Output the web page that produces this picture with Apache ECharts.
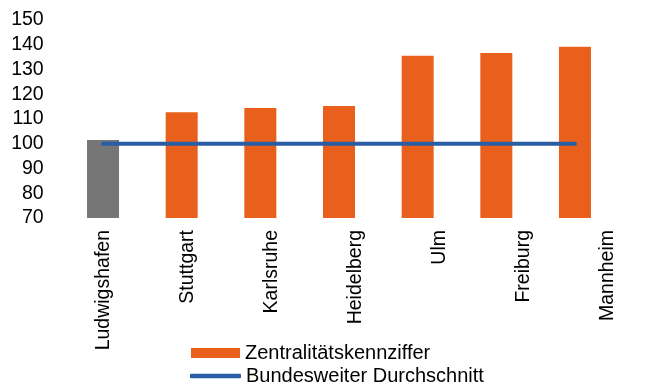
<!DOCTYPE html>
<html>
<head>
<meta charset="utf-8">
<script src="https://cdn.jsdelivr.net/npm/echarts@6/dist/echarts.min.js"></script>
<style>html,body{margin:0;padding:0;background:#fff}#c{width:647px;height:385px}</style>
</head>
<body>
<div id="c"></div>
<script>
const categories = ['Ludwigshafen','Stuttgart','Karlsruhe','Heidelberg','Ulm','Freiburg','Mannheim'];
const zentralitaet = [101.5, 112.7, 114.4, 115.3, 135.6, 136.7, 139.2];
const bundesschnitt = [100, 100, 100, 100, 100, 100, 100];
const yTicks = [70, 80, 90, 100, 110, 120, 130, 140, 150];
const seriesNames = ['Zentralitätskennziffer', 'Bundesweiter Durchschnitt'];

const FONT = 'Liberation Sans, Arial, sans-serif';
const ORANGE = '#E9601C', GRAY = '#767676', BLUE = '#2A5EA4';

const chart = echarts.init(document.getElementById('c'), null, {renderer: 'canvas'});
chart.setOption({
  animation: false,
  backgroundColor: '#fff',
  grid: [
    {left: 63.7, top: 20, width: 550.6, height: 198},
    {left: 104, top: 20, width: 504, height: 198}
  ],
  legend: [
    {data: [seriesNames[0]], left: 191, top: 343, padding: 0, itemWidth: 49, itemHeight: 10, icon: 'rect',
     textStyle: {fontFamily: FONT, fontSize: 20, color: '#000'}},
    {data: [seriesNames[1]], left: 190, top: 366, padding: 0, itemWidth: 51, itemHeight: 4.5, icon: 'roundRect',
     textStyle: {fontFamily: FONT, fontSize: 20, color: '#000'}}
  ],
  xAxis: [
    {type: 'category', gridIndex: 0, data: categories, axisLine: {show: false}, axisTick: {show: false}, axisLabel: {show: false}},
    {type: 'category', gridIndex: 1, data: categories, boundaryGap: false, axisLine: {show: false}, axisTick: {show: false},
     axisLabel: {rotate: 90, margin: 12, interval: 0, fontFamily: FONT, fontSize: 19.5, color: '#000'}}
  ],
  yAxis: [
    {type: 'value', gridIndex: 0, min: yTicks[0], max: yTicks[yTicks.length-1], interval: 10,
     axisLine: {show: false}, axisTick: {show: false}, splitLine: {show: false},
     axisLabel: {margin: 20, fontFamily: FONT, fontSize: 19.5, color: '#000'}},
    {type: 'value', gridIndex: 1, min: yTicks[0], max: yTicks[yTicks.length-1], show: false}
  ],
  series: [
    {name: seriesNames[0], type: 'bar', xAxisIndex: 0, yAxisIndex: 0, barWidth: 32,
     itemStyle: {color: ORANGE},
     data: zentralitaet.map((v, i) => i === 0 ? {value: v, itemStyle: {color: GRAY}} : v)},
    {name: seriesNames[1], type: 'line', xAxisIndex: 0, yAxisIndex: 0, z: 5,
     showSymbol: false, symbol: 'none', itemStyle: {color: BLUE},
     lineStyle: {color: BLUE, width: 4, cap: 'round'},
     data: bundesschnitt}
  ]
});
</script>
</body>
</html>
